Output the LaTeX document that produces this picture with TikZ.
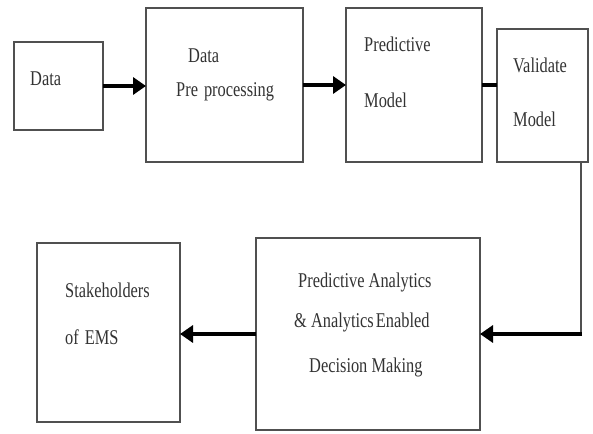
\documentclass[tikz,border=0pt]{standalone}
\usepackage{fontspec}
\newfontfamily\diagfont[FakeStretch=0.78]{Liberation Serif}
\usetikzlibrary{arrows.meta}
\definecolor{boxline}{HTML}{505050}
\definecolor{txt}{HTML}{333333}
\tikzset{
  box/.style={draw=boxline, line width=1.8pt, inner sep=0pt, outer sep=0pt, fill=white},
  lbl/.style={anchor=base west, inner sep=0pt, text=txt, font=\diagfont\fontsize{21}{25}\selectfont},
  flow/.style={draw=black, line width=3.8pt, -{Triangle[length=13pt,width=17pt]}},
  flowplain/.style={draw=black, line width=3.8pt},
  thinline/.style={draw=boxline, line width=1.6pt}
}
\begin{document}
\begin{tikzpicture}[x=1pt,y=-1pt]
\useasboundingbox[fill=white] (0,0) rectangle (593,433);
% boxes
\node[box, minimum width=89pt, minimum height=88pt] (data) at (58.5,86) {};
\node[box, minimum width=157pt, minimum height=154pt] (pre) at (224.5,85) {};
\node[box, minimum width=136pt, minimum height=154pt] (pred) at (414,85) {};
\node[box, minimum width=91pt, minimum height=133pt] (valid) at (542.5,95.5) {};
\node[box, minimum width=224pt, minimum height=192pt] (pa) at (368,334) {};
\node[box, minimum width=143pt, minimum height=179pt] (stake) at (108.5,332.5) {};
% labels
\node[lbl] (t1) at (30,85) {Data};
\node[lbl] (t2) at (188,63) {Data};
\node[lbl] (t3) at (176,96) {Pre\hspace{6pt}processing};
\node[lbl] (t4) at (364,52) {Predictive};
\node[lbl] (t5) at (364,107) {Model};
\node[lbl] (t6) at (513,73) {Validate};
\node[lbl] (t7) at (513,126) {Model};
\node[lbl] (t8) at (65,297) {Stakeholders};
\node[lbl] (t9) at (65,344) {of\hspace{6pt}EMS};
\node[lbl] (t10) at (298,287) {Predictive Analytics};
\node[lbl] (t11) at (294,327) {\& Analytics\hspace{-2pt} Enabled};
\node[lbl] (t12) at (309,372) {Decision Making};
% connectors
\draw[flow] (data.east) -- (data.east -| pre.west);
\draw[flow] (pre.east) -- (pred.west);
\draw[flowplain] (pred.east) -- (pred.east -| valid.west);
\coordinate (corner) at (581,334);
\draw[thinline] (valid.south -| corner) -- (corner);
\draw[flow] ([xshift=1pt]corner) -- (pa.east);
\draw[flow] (pa.west) -- (pa.west -| stake.east);
\end{tikzpicture}
\end{document}
